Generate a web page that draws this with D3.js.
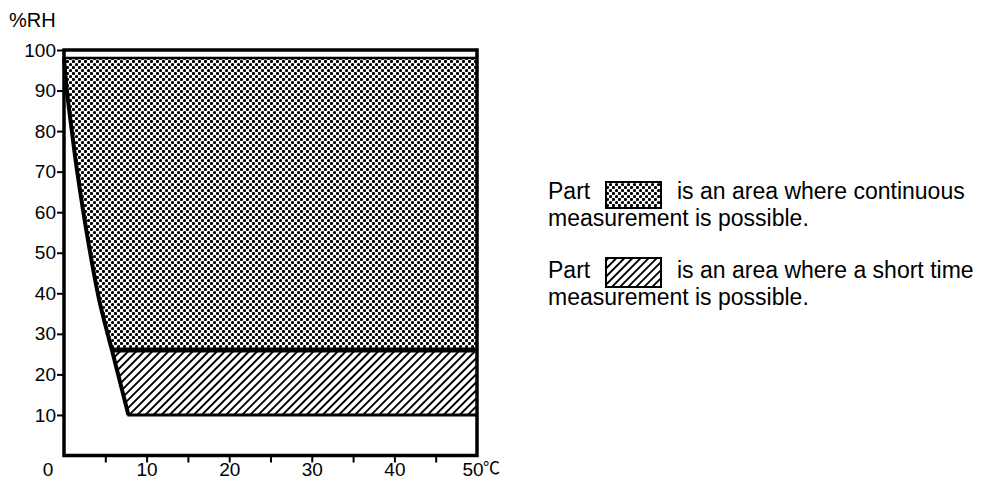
<!DOCTYPE html>
<html>
<head>
    <meta charset="utf-8">
    <title>Operating humidity range</title>
    <script src="https://d3js.org/d3.v7.min.js"></script>
    <style>
        body {
            margin: 0;
            background-color: #ffffff;
        }
        text {
            font-family: "Liberation Sans", Arial, sans-serif;
            fill: #000000;
        }
    </style>
</head>
<body>
    <script>
        // values
        const rhTicks = [10, 20, 30, 40, 50, 60, 70, 80, 90, 100];
        const tempTicks = [5, 10, 15, 20, 25, 30, 35, 40, 45];
        const tempLabels = [10, 20, 30, 40];
        // lower-left boundary of the usable area (temperature at each %RH)
        const boundaryRH = [10, 26, 38, 52, 70, 80, 90, 98];
        const boundaryTemp = [7.8, 5.8, 4.3, 3.0, 1.6, 0.95, 0.35, 0];
        const shortLow = 10;   // short time measurement: 10 .. 26 %RH
        const contLow = 26;    // continuous measurement: 26 .. 98 %RH
        const contHigh = 98;
        const tempMax = 50;

        var width = 990, height = 479;

        var svg = d3.select("body")
            .append("svg")
            .attr("width", width)
            .attr("height", height);

        var x = d3.scaleLinear().domain([0, 50]).range([64, 477]);
        var y = d3.scaleLinear().domain([0, 100]).range([455.5, 50]);

        var defs = svg.append("defs");

        // dotted texture
        var dots = defs.append("pattern")
            .attr("id", "dots")
            .attr("patternUnits", "userSpaceOnUse")
            .attr("width", 6)
            .attr("height", 6);
        dots.append("rect").attr("width", 6).attr("height", 6).attr("fill", "#fff");
        dots.append("circle").attr("cx", 1.5).attr("cy", 1.5).attr("r", 1.6).attr("fill", "#000");
        dots.append("circle").attr("cx", 4.5).attr("cy", 4.5).attr("r", 1.6).attr("fill", "#000");

        // diagonal hatch
        var hatch = defs.append("pattern")
            .attr("id", "hatch")
            .attr("patternUnits", "userSpaceOnUse")
            .attr("width", 5.7)
            .attr("height", 5.7)
            .attr("patternTransform", "rotate(45)");
        hatch.append("rect").attr("width", 5.7).attr("height", 5.7).attr("fill", "#fff");
        hatch.append("line")
            .attr("x1", 2.85).attr("y1", 0).attr("x2", 2.85).attr("y2", 5.7)
            .attr("stroke", "#000").attr("stroke-width", 1.9);

        var pts = boundaryRH.map(function (rh, i) { return [boundaryTemp[i], rh]; });

        var line = d3.line()
            .x(function (d) { return x(d[0]); })
            .y(function (d) { return y(d[1]); })
            .curve(d3.curveCatmullRom.alpha(0.5));

        function region(seg, lo, hi) {
            return line(seg) + "L" + x(tempMax) + "," + y(hi) + "L" + x(tempMax) + "," + y(lo) + "Z";
        }

        var lowerPts = pts.filter(function (d) { return d[1] <= contLow; });
        var upperPts = pts.filter(function (d) { return d[1] >= contLow; });

        svg.append("path")
            .attr("d", region(lowerPts, shortLow, contLow))
            .attr("fill", "url(#hatch)")
            .attr("stroke", "none");

        svg.append("path")
            .attr("d", region(upperPts, contLow, contHigh))
            .attr("fill", "url(#dots)")
            .attr("stroke", "none");

        // outlines
        svg.append("path")
            .attr("d", line(pts))
            .attr("fill", "none")
            .attr("stroke", "#000")
            .attr("stroke-width", 4);

        svg.append("line")
            .attr("x1", x(pts[1][0])).attr("x2", x(tempMax))
            .attr("y1", y(contLow)).attr("y2", y(contLow))
            .attr("stroke", "#000").attr("stroke-width", 5);

        svg.append("line")
            .attr("x1", x(pts[0][0]) - 1).attr("x2", x(tempMax))
            .attr("y1", y(shortLow)).attr("y2", y(shortLow))
            .attr("stroke", "#000").attr("stroke-width", 3);

        svg.append("line")
            .attr("x1", x(0)).attr("x2", x(tempMax))
            .attr("y1", y(contHigh)).attr("y2", y(contHigh))
            .attr("stroke", "#000").attr("stroke-width", 2.5);

        // frame
        svg.append("rect")
            .attr("x", x(0))
            .attr("y", y(100))
            .attr("width", x(50) - x(0))
            .attr("height", y(0) - y(100))
            .attr("fill", "none")
            .attr("stroke", "#000")
            .attr("stroke-width", 3.5);

        // axes
        var yAxis = svg.append("g")
            .attr("transform", "translate(" + (x(0) - 1) + ",0)")
            .call(d3.axisLeft(y).tickValues(rhTicks).tickSize(6).tickPadding(1));
        var xAxis = svg.append("g")
            .attr("transform", "translate(0," + (y(0) + 1) + ")")
            .call(d3.axisBottom(x).tickValues(tempTicks).tickSize(6).tickPadding(0)
                .tickFormat(function (d) { return tempLabels.indexOf(d) >= 0 ? d : ""; }));

        [yAxis, xAxis].forEach(function (g) {
            g.select(".domain").remove();
            g.selectAll("line").attr("stroke", "#000").attr("stroke-width", 2);
            g.selectAll("text")
                .style("font-family", "'Liberation Sans', Arial, sans-serif")
                .style("font-size", "19px")
                .attr("fill", "#000");
        });

        svg.append("text")
            .attr("x", 48).attr("y", 476)
            .attr("text-anchor", "middle")
            .style("font-size", "19px")
            .text("0");
        svg.append("text")
            .attr("x", x(50) - 4).attr("y", 476)
            .attr("text-anchor", "middle")
            .style("font-size", "19px")
            .text("50");
        svg.append("text")
            .attr("x", x(50) + 6).attr("y", 474)
            .style("font-family", "'Noto Sans CJK JP', sans-serif")
            .style("font-size", "17px")
            .text("\u2103");

        svg.append("text")
            .attr("x", 9).attr("y", 27)
            .style("font-size", "20px")
            .text("%RH");

        // legend
        var legend = [
            { fill: "url(#dots)", first: "is an area where continuous", y: 199, box: 182, h: 26 },
            { fill: "url(#hatch)", first: "is an area where a short time", y: 278, box: 258, h: 29 }
        ];

        legend.forEach(function (d) {
            svg.append("text").attr("x", 548).attr("y", d.y).style("font-size", "23px").text("Part");
            svg.append("rect")
                .attr("x", 606).attr("y", d.box)
                .attr("width", 55).attr("height", d.h)
                .attr("fill", d.fill)
                .attr("stroke", "#000").attr("stroke-width", 2);
            svg.append("text").attr("x", 677).attr("y", d.y).style("font-size", "23px").text(d.first);
            svg.append("text").attr("x", 548).attr("y", d.y + 27).style("font-size", "23px").text("measurement is possible.");
        });
    </script>
</body>
</html>
